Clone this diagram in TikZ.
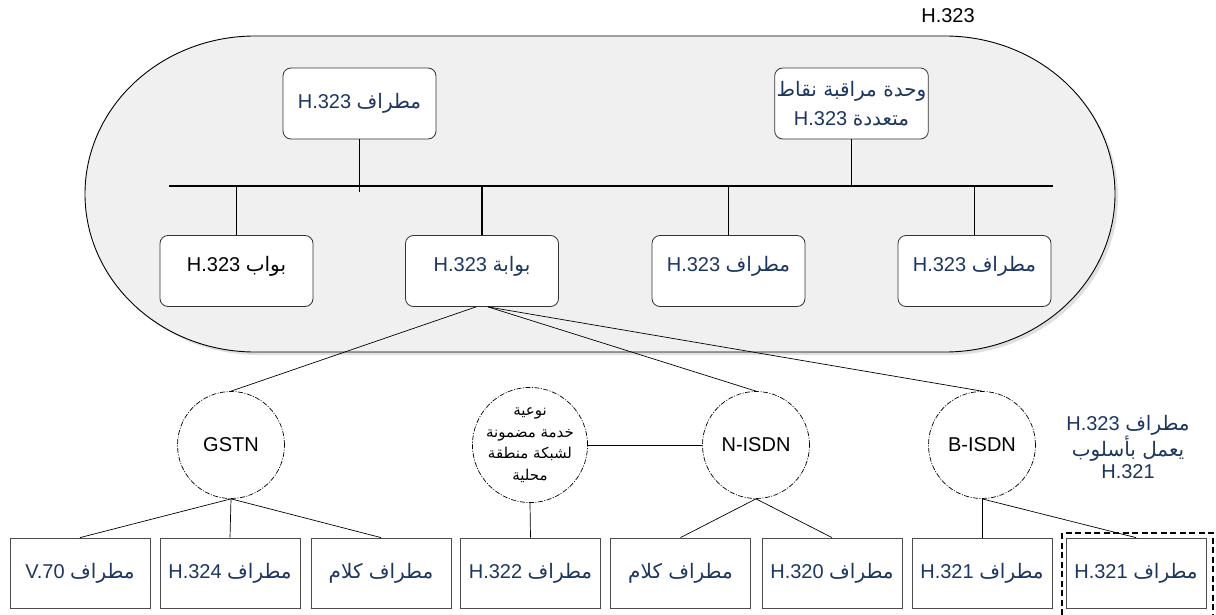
\documentclass[tikz,border=0pt]{standalone}
\usepackage{fontspec}
\setmainfont{Liberation Sans}
\newfontfamily\arabicfont[Script=Arabic]{DejaVu Sans}
\TeXXeTstate=1
\newcommand\arab[1]{{\arabicfont #1}}
\newcommand\rtlline[1]{\beginR #1\endR}
\newcommand\ltrpart[1]{\beginL #1\endL}
\definecolor{textnavy}{RGB}{28,54,98}
\definecolor{zonefill}{RGB}{240,240,240}

\begin{document}
\begin{tikzpicture}[x=1pt,y=1pt,
  rbox/.style={draw=black!80, fill=white, rounded corners=8pt, line width=0.8pt,
    minimum width=153pt, minimum height=71pt, inner sep=2pt,
    font=\fontsize{20}{29}\selectfont, text=textnavy, align=center},
  hightext/.style={text height=16pt, text depth=16pt},
  sbox/.style={draw=black!70, fill=white, line width=0.8pt,
    minimum width=140pt, minimum height=70pt, inner sep=0pt,
    font=\fontsize{20}{24}\selectfont, text=textnavy},
  net/.style={circle, draw=black, line width=0.7pt,
    dash pattern=on 5pt off 1.5pt on 1pt off 1.5pt,
    minimum size=107pt, inner sep=0pt, font=\fontsize{20}{24}\selectfont, align=center},
  bus/.style={line width=2.2pt},
  drop/.style={line width=1.4pt},
  link/.style={line width=0.7pt},
]
\useasboundingbox (0,0) rectangle (1216,-615);

% H.323 zone: rounded outline with elliptical ends and a soft shadow
\fill[black!12] (258,-39) -- (948,-39)
  arc[start angle=90, end angle=0, x radius=170, y radius=158]
  arc[start angle=0, end angle=-90, x radius=170, y radius=158]
  -- (258,-355)
  arc[start angle=270, end angle=180, x radius=170, y radius=158]
  arc[start angle=180, end angle=90, x radius=170, y radius=158] -- cycle;
\draw[fill=zonefill, line width=0.9pt] (255,-36) -- (945,-36)
  arc[start angle=90, end angle=0, x radius=170, y radius=158]
  arc[start angle=0, end angle=-90, x radius=170, y radius=158]
  -- (255,-352)
  arc[start angle=270, end angle=180, x radius=170, y radius=158]
  arc[start angle=180, end angle=90, x radius=170, y radius=158] -- cycle;

\node[font=\fontsize{20}{24}\selectfont] (zonetitle) at (948,-16) {H.323};

% LAN bus
\coordinate (busL) at (169,-186);
\coordinate (busR) at (1053,-186);
\draw[bus] (busL) -- (busR);

% upper endpoints
\node[rbox] (t1) at (359.5,-103.5) {\rtlline{\arab{مطراف} \ltrpart{H.323}}};
\node[rbox] (mcu) at (851.5,-103.5) {\rtlline{\arab{وحدة مراقبة نقاط}}\\\rtlline{\arab{متعددة} \ltrpart{H.323}}};

% lower endpoints
\node[rbox, hightext] (gk) at (236.5,-271) {\rtlline{\arab{بواب} \ltrpart{\color{black}H.323}}};
\node[rbox, hightext] (gw) at (482,-271) {\rtlline{\arab{بوابة} \ltrpart{H.323}}};
\node[rbox, hightext] (t2) at (728.5,-271) {\rtlline{\arab{مطراف} \ltrpart{H.323}}};
\node[rbox, hightext] (t3) at (974.5,-271) {\rtlline{\arab{مطراف} \ltrpart{H.323}}};

\draw[drop] (t1.south) -- ++(0,-53);
\draw[drop] (mcu.south) -- (mcu.south |- busL);
\foreach \n in {gk,gw,t2,t3} \draw[drop] (\n.north) -- (\n.north |- busL);

% networks
\node[net] (gstn) at (231,-445) {GSTN};
\node[net, font=\fontsize{15}{21.5}\selectfont] (qos) at (530,-445)
  {\rtlline{\arab{نوعية}}\\\rtlline{\arab{خدمة مضمونة}}\\\rtlline{\arab{لشبكة منطقة}}\\\rtlline{\arab{محلية}}};
\node[net] (nisdn) at (756,-445) {N-ISDN};
\node[net] (bisdn) at (982,-445) {B-ISDN};

\node[text=textnavy, font=\fontsize{20}{22.5}\selectfont, align=center] (h321note) at (1128,-447)
  {\rtlline{\arab{مطراف} \ltrpart{H.323}}\\\rtlline{\arab{يعمل بأسلوب}}\\H.321};

\draw[link] ([xshift=-6pt]gw.south) -- (gstn.north);
\draw[link] ([xshift=6pt]gw.south) -- (nisdn.north);
\draw[link] ([xshift=6pt]gw.south) -- (bisdn.north);
\draw[link] (qos.east) -- (nisdn.west);

% terminals outside the zone
\node[sbox] (v70) at (80,-573) {\rtlline{\arab{مطراف} \ltrpart{V.70}}};
\node[sbox] (h324) at (230,-573) {\rtlline{\arab{مطراف} \ltrpart{H.324}}};
\node[sbox] (voiceA) at (381,-573) {\rtlline{\arab{مطراف كلام}}};
\node[sbox] (h322) at (530.5,-573) {\rtlline{\arab{مطراف} \ltrpart{H.322}}};
\node[sbox] (voiceB) at (680.5,-573) {\rtlline{\arab{مطراف كلام}}};
\node[sbox] (h320) at (832,-573) {\rtlline{\arab{مطراف} \ltrpart{H.320}}};
\node[sbox] (h321a) at (982,-573) {\rtlline{\arab{مطراف} \ltrpart{H.321}}};
\node[sbox] (h321b) at (1136,-573) {\rtlline{\arab{مطراف} \ltrpart{H.321}}};

\foreach \n in {v70,h324,voiceA} \draw[link] (gstn.south) -- (\n.north);
\draw[link] (qos.south) -- (h322.north);
\foreach \n in {voiceB,h320} \draw[link] (nisdn.south) -- (\n.north);
\foreach \n in {h321a,h321b} \draw[link] (bisdn.south) -- (\n.north);

% dashed frame around the H.321-mode terminal
\draw[line width=1.6pt, dash pattern=on 6pt off 3.5pt]
  (1062,-615) -- (1062,-533) -- (1213,-533) -- (1213,-615);
\end{tikzpicture}
\end{document}
